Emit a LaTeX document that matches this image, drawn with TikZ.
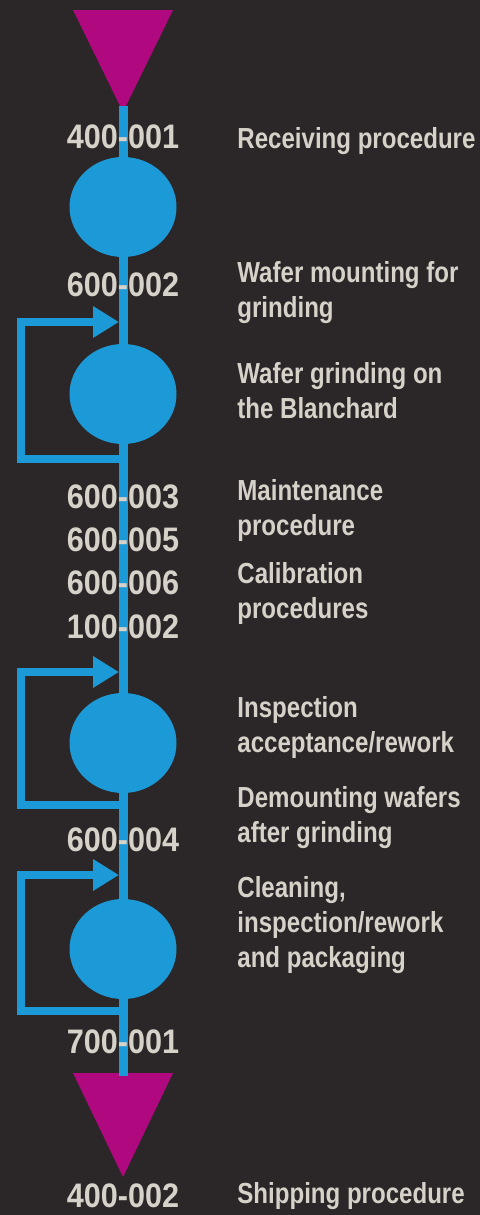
\documentclass[tikz,border=0pt]{standalone}
\usepackage{fontspec}
\setmainfont{Liberation Sans}[FakeStretch=0.83]
\newfontfamily\codefont{Liberation Sans}[FakeStretch=0.9]
\usetikzlibrary{arrows.meta}
\usetikzlibrary{shapes.geometric}
\definecolor{bgdark}{HTML}{2B2728}
\definecolor{flowblue}{HTML}{1B9AD7}
\definecolor{endmagenta}{HTML}{B0087E}
\definecolor{labelgrey}{HTML}{D6D2C9}
\tikzset{stepdisc/.style={ellipse, fill=flowblue, minimum width=53.5pt, minimum height=50pt, inner sep=0pt}}
\tikzset{codelab/.style={text=labelgrey, font=\codefont\bfseries\fontsize{17}{19}\selectfont, inner sep=0pt}}
\tikzset{desclab/.style={text=labelgrey, font=\bfseries\fontsize{14.5}{17.5}\selectfont, align=left, anchor=base west, inner sep=0pt}}
\tikzset{flowline/.style={draw=flowblue, line width=4.5pt}}
\tikzset{backloop/.style={draw=flowblue, line width=4pt, -{Triangle[length=13pt,width=15pt]}}}
\tikzset{endmark/.style={fill=endmagenta}}

\begin{document}
\begin{tikzpicture}[x=0.5pt,y=-0.5pt]
  \fill[bgdark] (0,0) rectangle (480,1215);
  \useasboundingbox (0,0) rectangle (480,1215);

  % start and end marks
  \fill[endmark] (73,10) -- (173,10) -- (123,112) -- cycle;
  \coordinate (in) at (123,106);
  \fill[endmark] (73,1073) -- (173,1073) -- (123,1177) -- cycle;
  \coordinate (out) at (123,1076);

  % rework loops
  \foreach \n/\top/\bot in {
    2/322/459,
    3/672/805,
    4/875/1011%
  } {
    \coordinate (ret\n) at (123,\bot);
    \coordinate (back\n) at (119,\top);
    \draw[backloop] (ret\n) -- (21,\bot) |- (back\n);
  }

  \draw[flowline] (in) -- (out);

  \foreach \n/\y in {1/207, 2/394, 3/743, 4/949} {
    \node[stepdisc] (s\n) at (123,\y) {};
  }

  % document numbers
  \foreach \y/\code [count=\i] in {
    137/400-001,
    285/600-002,
    497/600-003,
    540/600-005,
    583/600-006,
    627/100-002,
    840/600-004,
    1042/700-001,
    1196/400-002%
  } {
    \node[codelab] (code\i) at (123,\y) {\code};
  }

  % procedure names (placed by the baseline of the last line)
  \node[desclab] (d1) at (237,148) {Receiving procedure};
  \node[desclab] (d2) at (237,317) {Wafer mounting for\\grinding};
  \node[desclab] (d3) at (237,418) {Wafer grinding on\\the Blanchard};
  \node[desclab] (d4) at (237,535) {Maintenance\\procedure};
  \node[desclab] (d5) at (237,618) {Calibration\\procedures};
  \node[desclab] (d6) at (237,752) {Inspection\\acceptance/rework};
  \node[desclab] (d7) at (237,842) {Demounting wafers\\after grinding};
  \node[desclab] (d8) at (237,967) {Cleaning,\\inspection/rework\\and packaging};
  \node[desclab] (d9) at (237,1203) {Shipping procedure};
\end{tikzpicture}
\end{document}
